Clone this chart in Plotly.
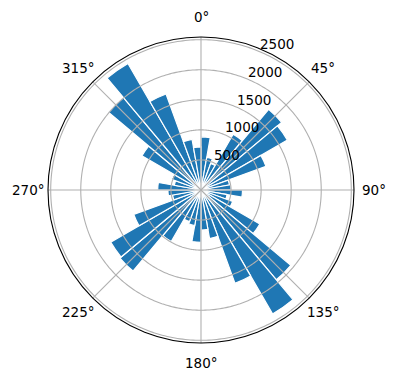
import plotly.graph_objects as go
import numpy as np

# bin centres (degrees, clockwise from north) and counts
directions = [5, 15, 25, 35, 45, 55, 65, 75, 85, 95, 105, 115,
              125, 135, 145, 155, 165, 175, 185, 195, 205, 215, 225, 235,
              245, 255, 265, 275, 285, 295, 305, 315, 325, 335, 345, 355]
counts = [885, 550, 470, 1070, 1750, 1660, 1150, 480, 500, 690, 440, 560,
          1130, 1950, 2380, 1650, 820, 665, 870, 600, 560, 990, 1760, 1735,
          1190, 480, 550, 720, 450, 520, 1136, 2010, 2430, 1700, 856, 717]

radial_ticks = [500, 1000, 1500, 2000, 2500]
angle_ticks = [0, 45, 90, 135, 180, 225, 270, 315]
angle_labels = ["0°", "45°", "90°", "135°", "180°", "225°", "270°", "315°"]

R_MAX = 2545
RLABEL_ANGLE = 22.5
GRID = "#b0b0b0"

fig = go.Figure()
fig.add_trace(go.Barpolar(
    r=counts, theta=directions, width=[10] * len(directions),
    marker=dict(color="#1f77b4", line=dict(color="white", width=1.2)),
    showlegend=False, hoverinfo="skip"))

# grid drawn above the bars (as matplotlib does)
ring_theta = np.linspace(0, 360, 361)
for rv in radial_ticks:
    fig.add_trace(go.Scatterpolar(r=[rv] * len(ring_theta), theta=ring_theta,
                                  mode="lines", line=dict(color=GRID, width=1.1),
                                  showlegend=False, hoverinfo="skip"))
for av in angle_ticks:
    fig.add_trace(go.Scatterpolar(r=[0, R_MAX], theta=[av, av], mode="lines",
                                  line=dict(color=GRID, width=1.1),
                                  showlegend=False, hoverinfo="skip"))

W, H = 396, 380
cx, cy, rad = 201, 190, 153
LABEL_DIST = 173

annotations = []
# radial tick labels, left/bottom anchored at (r, 22.5 deg) like matplotlib
for rv in radial_ticks:
    rp = rad * rv / R_MAX
    px = cx + rp * np.sin(np.radians(RLABEL_ANGLE))
    py = cy - rp * np.cos(np.radians(RLABEL_ANGLE))
    annotations.append(dict(x=px / W, y=(H - py) / H, xref="paper", yref="paper",
                            text=str(rv), showarrow=False, xanchor="left",
                            yanchor="bottom", borderpad=0, yshift=-2,
                            font=dict(size=13.5, color="black")))
# angular tick labels, centred outside the circle
for av, lab in zip(angle_ticks, angle_labels):
    px = cx + LABEL_DIST * np.sin(np.radians(av))
    py = cy - LABEL_DIST * np.cos(np.radians(av))
    annotations.append(dict(x=px / W, y=(H - py) / H, xref="paper", yref="paper",
                            text=lab, showarrow=False, xanchor="center",
                            yanchor="middle", borderpad=0,
                            font=dict(size=13.5, color="black")))

fig.update_layout(
    width=W, height=H, margin=dict(l=0, r=0, t=0, b=0),
    paper_bgcolor="white",
    font=dict(family="DejaVu Sans", size=13, color="black"),
    annotations=annotations,
    polar=dict(
        domain=dict(x=[(cx - rad) / W, (cx + rad) / W],
                    y=[(H - cy - rad) / H, (H - cy + rad) / H]),
        bgcolor="white",
        angularaxis=dict(rotation=90, direction="clockwise",
                         tickvals=angle_ticks, showticklabels=False,
                         showgrid=False, showline=True, linecolor="black", linewidth=1.1,
                         ticks=""),
        radialaxis=dict(range=[0, R_MAX], showticklabels=False,
                        showgrid=False, showline=False, ticks=""),
    ),
)
fig.write_html("out.html")
